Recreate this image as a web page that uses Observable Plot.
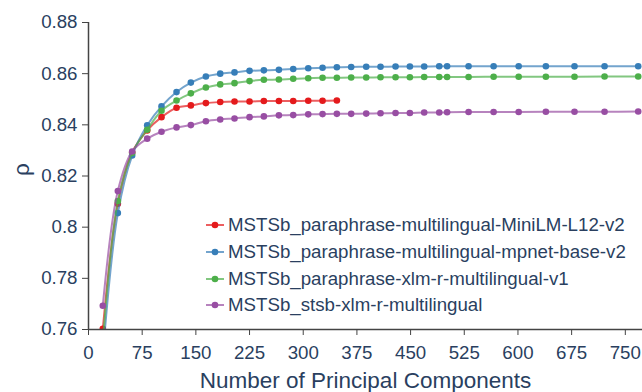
<!DOCTYPE html>
<html>
<head>
<meta charset="utf-8">
<script src="https://cdn.jsdelivr.net/npm/d3@7"></script>
<script src="https://cdn.jsdelivr.net/npm/@observablehq/plot@0.6"></script>
<style>
  body { margin: 0; background: white; }
  #wrap { position: relative; width: 642px; height: 392px; overflow: hidden; font-family: "Liberation Sans", Arial, sans-serif; }
  #legend { position: absolute; left: 206px; top: 212px; color: #2a3f5f; font-size: 18.7px; }
  .row { height: 26.7px; display: flex; align-items: center; white-space: nowrap; }
  .row svg { margin-right: 4px; }
</style>
</head>
<body>
<div id="wrap"><div id="legend"></div></div>
<script>
const xs = [20, 41, 61, 82, 102, 123, 143, 164, 184, 204, 225, 245, 266, 286, 307, 327, 347, 367, 388, 408, 429, 449, 469, 490, 501, 531, 566, 601, 639, 679, 721, 768];

const miniLM = [0.7603, 0.8092, 0.8292, 0.8378, 0.8430, 0.8467, 0.8476, 0.8485, 0.8489, 0.8491, 0.8491, 0.8493, 0.8493, 0.8493, 0.8494, 0.8494, 0.8495];
const mpnet = [0.750, 0.8055, 0.8280, 0.8398, 0.8472, 0.8528, 0.8565, 0.8589, 0.8600, 0.8605, 0.8611, 0.8613, 0.8615, 0.8618, 0.8621, 0.8623, 0.8625, 0.8626, 0.8627, 0.8627, 0.8628, 0.8628, 0.8628, 0.8629, 0.8629, 0.8629, 0.8629, 0.8629, 0.8629, 0.8629, 0.8629, 0.8629];
const xlmr = [0.755, 0.8102, 0.8290, 0.8381, 0.8455, 0.8495, 0.8523, 0.8546, 0.8558, 0.8563, 0.8571, 0.8576, 0.8577, 0.8580, 0.8582, 0.8584, 0.8584, 0.8585, 0.8585, 0.8586, 0.8586, 0.8586, 0.8587, 0.8587, 0.8587, 0.8587, 0.8588, 0.8588, 0.8588, 0.8588, 0.8589, 0.8589];
const stsb = [0.7693, 0.8141, 0.8296, 0.8346, 0.8373, 0.8390, 0.8399, 0.8414, 0.8421, 0.8425, 0.8430, 0.8433, 0.8437, 0.8438, 0.8441, 0.8442, 0.8443, 0.8443, 0.8444, 0.8445, 0.8446, 0.8446, 0.8448, 0.8448, 0.8449, 0.8450, 0.8450, 0.8450, 0.8451, 0.8451, 0.8451, 0.8452];

const seriesNames = [
  "MSTSb_paraphrase-multilingual-MiniLM-L12-v2",
  "MSTSb_paraphrase-multilingual-mpnet-base-v2",
  "MSTSb_paraphrase-xlm-r-multilingual-v1",
  "MSTSb_stsb-xlm-r-multilingual"
];
const seriesValues = [miniLM, mpnet, xlmr, stsb];
const seriesColors = ["#e41a1c", "#377eb8", "#4daf4a", "#984ea3"];

const xTicks = [0, 75, 150, 225, 300, 375, 450, 525, 600, 675, 750];
const yTicks = [0.76, 0.78, 0.80, 0.82, 0.84, 0.86, 0.88];
const yTickLabels = ["0.76", "0.78", "0.8", "0.82", "0.84", "0.86", "0.88"];
const xLabel = "Number of Principal Components";
const yLabel = "ρ";

const textColor = "#2a3f5f";
const axisColor = "#444";

const seriesMarks = [];
seriesNames.forEach((name, k) => {
  const rows = seriesValues[k].map((v, i) => ({x: xs[i], y: v, s: name}));
  seriesMarks.push(Plot.line(rows, {x: "x", y: "y", stroke: seriesColors[k], strokeWidth: 2, strokeOpacity: 0.7, curve: "catmull-rom", clip: true}));
  seriesMarks.push(Plot.dot(rows, {x: "x", y: "y", fill: seriesColors[k], r: 3.3, clip: true}));
});

const chart = Plot.plot({
  width: 642,
  height: 392,
  marginLeft: 88,
  marginRight: 0,
  marginTop: 22,
  marginBottom: 63,
  x: {domain: [0, 774]},
  y: {domain: [0.76, 0.88]},
  style: {fontFamily: '"Liberation Sans", Arial, sans-serif', color: textColor, background: "white"},
  marks: [
    ...seriesMarks,
    Plot.ruleX([0], {stroke: axisColor, strokeWidth: 1.5}),
    Plot.ruleY([0.76], {stroke: axisColor, strokeWidth: 1.5}),
    Plot.axisX({ticks: xTicks, tickSize: 6, tickPadding: 10, fontSize: 18.7, stroke: axisColor, fill: textColor, label: null, tickFormat: d => String(d)}),
    Plot.axisY({ticks: yTicks, tickSize: 6, tickPadding: 5, fontSize: 18.7, stroke: axisColor, fill: textColor, label: null, tickFormat: d => yTickLabels[yTicks.indexOf(d)]}),
    Plot.text([xLabel], {frameAnchor: "bottom", text: d => d, dy: 58, fontSize: 22.5, fill: textColor, lineAnchor: "bottom"}),
    Plot.text([yLabel], {frameAnchor: "left", text: d => d, dx: -67, rotate: -90, fontSize: 22.5, fill: textColor})
  ]
});

const wrap = document.getElementById("wrap");
wrap.insertBefore(chart, wrap.firstChild);

const legend = document.getElementById("legend");
seriesNames.forEach((name, k) => {
  const row = document.createElement("div");
  row.className = "row";
  row.innerHTML = `<svg width="18" height="10"><line x1="0" x2="18" y1="5" y2="5" stroke="${seriesColors[k]}" stroke-width="2" stroke-opacity="0.7"/><circle cx="9" cy="5" r="3.3" fill="${seriesColors[k]}"/></svg><span>${name}</span>`;
  legend.appendChild(row);
});
</script>
</body>
</html>
